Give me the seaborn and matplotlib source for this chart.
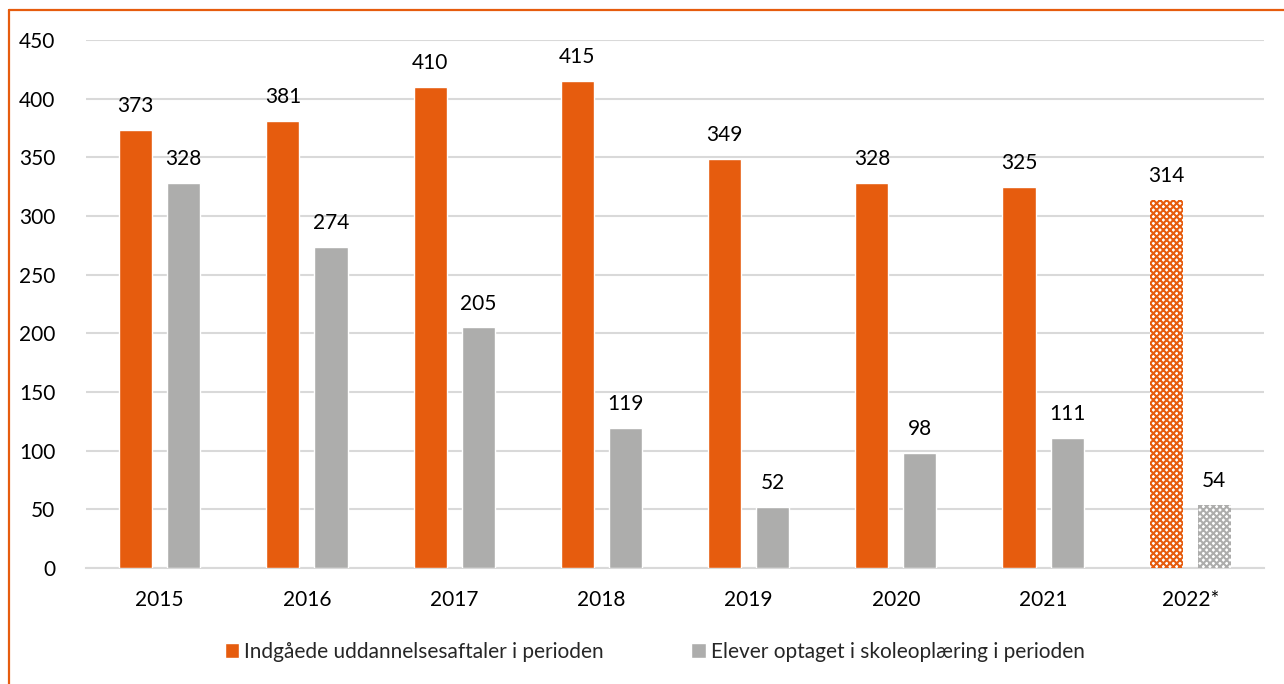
import matplotlib
matplotlib.use("Agg")
import matplotlib.pyplot as plt
from matplotlib.lines import Line2D
from matplotlib.patches import Patch
import seaborn as sns
import pandas as pd

years = ["2015", "2016", "2017", "2018", "2019", "2020", "2021", "2022*"]
aftaler = [373, 381, 410, 415, 349, 328, 325, 314]
elever = [328, 274, 205, 119, 52, 98, 111, 54]
series_names = ["Indgåede uddannelsesaftaler i perioden", "Elever optaget i skoleoplæring i perioden"]
yticks = [0, 50, 100, 150, 200, 250, 300, 350, 400, 450]

ORANGE = "#E65C0E"
GRAY = "#ADADAC"
FS = 15

sns.set_theme(style="white")
plt.rcParams["font.family"] = ["Lato", "DejaVu Sans"]
plt.rcParams["hatch.linewidth"] = 1.5

df = pd.DataFrame({
    "year": years * 2,
    "value": aftaler + elever,
    "series": [series_names[0]] * len(years) + [series_names[1]] * len(years),
})

fig = plt.figure(figsize=(12.84, 6.84), dpi=100)
ax = fig.add_axes([0.067, 0.1696, 0.9174, 0.7719])

sns.barplot(data=df, x="year", y="value", hue="series", order=years,
            hue_order=series_names, palette=[ORANGE, GRAY],
            width=0.653, gap=0.31, ax=ax, legend=False, errorbar=None,
            saturation=1, zorder=3)

ax.set_ylim(0, 450)
ax.set_xlim(-0.5, len(years) - 0.5)
ax.set_yticks(yticks)
ax.set_yticklabels([str(t) for t in yticks], fontsize=FS, color="#000000")
ax.tick_params(axis="x", labelsize=FS, colors="#000000", length=0, pad=16)
ax.tick_params(axis="y", length=0, pad=22)
ax.set_xlabel("")
ax.set_ylabel("")
ax.yaxis.grid(True, color="#D9D9D9", linewidth=1.5, zorder=0)
ax.set_axisbelow(True)
for s in ["left", "right", "top"]:
    ax.spines[s].set_visible(False)
ax.spines["bottom"].set_color("#D9D9D9")
ax.spines["bottom"].set_linewidth(1.5)

for i, cont in enumerate(ax.containers):
    ax.bar_label(cont, padding=10, fontsize=FS, color="#000000")
    # hatch last bar (2022*)
    bar = cont.patches[-1]
    col = ORANGE if i == 0 else GRAY
    bar.set_facecolor("white")
    bar.set_edgecolor(col)
    bar.set_hatch("xxxxx")
    bar.set_linewidth(0)

handles = [Patch(facecolor=ORANGE), Patch(facecolor=GRAY)]
fig.legend(handles, series_names, loc="center", bbox_to_anchor=(0.51, 0.047),
           ncol=2, frameon=False, fontsize=FS, handlelength=0.7,
           handleheight=0.7, handletextpad=0.25, columnspacing=4.2)

# orange frame (left and top)
fig.add_artist(Line2D([9 / 1284, 9 / 1284], [0, 1 - 10 / 684], color=ORANGE, linewidth=1.6))
fig.add_artist(Line2D([9 / 1284, 1], [1 - 10 / 684, 1 - 10 / 684], color=ORANGE, linewidth=1.6))

fig.savefig("out.png", dpi=100)
